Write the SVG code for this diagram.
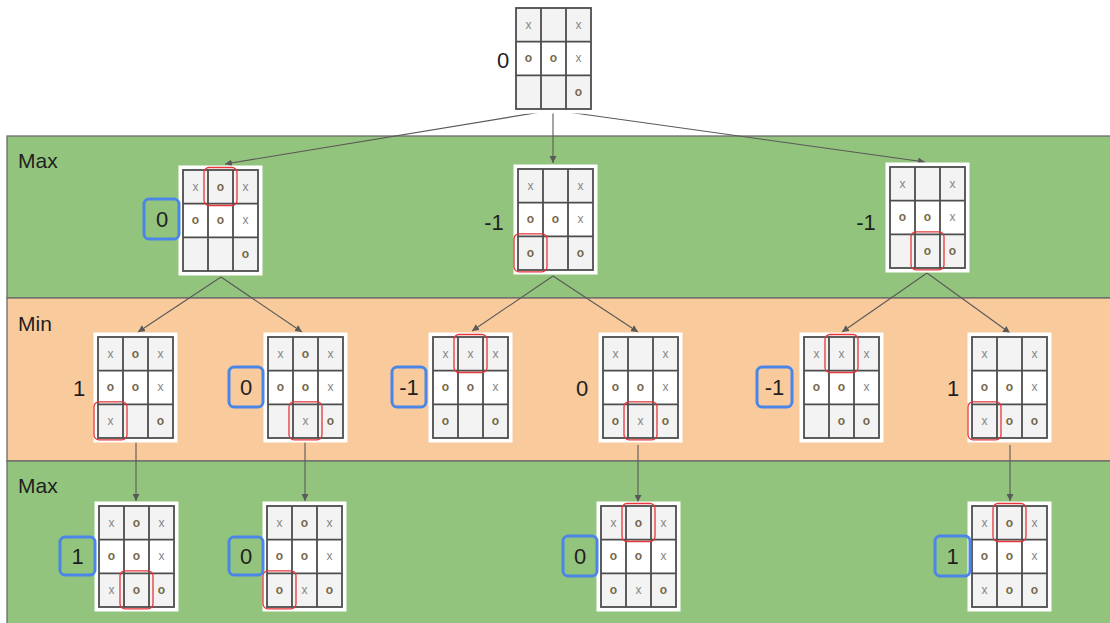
<svg xmlns="http://www.w3.org/2000/svg" xmlns:xlink="http://www.w3.org/1999/xlink" width="1110" height="623" viewBox="0 0 1110 623">
<style>
.band{stroke:#6b6b6b;stroke-width:1.3}
.lvl{font-family:"Liberation Sans",Arial,sans-serif;font-size:21px;fill:#1f1f1f}
.num{font-family:"Liberation Sans",Arial,sans-serif;font-size:22px;fill:#1f1f1f;text-anchor:middle}
.x{font-family:"Liberation Sans",Arial,sans-serif;font-size:12px;fill:#858585;text-anchor:middle}
.o{font-family:"Liberation Sans",Arial,sans-serif;font-size:12px;font-weight:bold;fill:#76684a;text-anchor:middle}
.hl{fill:none;stroke:#e8363a;stroke-width:1.3}
.bx{fill:none;stroke:#4a86e8;stroke-width:3}
.edge{stroke:#595959;stroke-width:1.1;fill:none;marker-end:url(#arr)}
</style>
<defs>
<marker id="arr" viewBox="0 0 10 10" refX="10" refY="5" markerWidth="7" markerHeight="7" markerUnits="userSpaceOnUse" orient="auto">
<path d="M0,0 L10,5 L0,10 z" fill="#595959"/>
</marker>
<g id="board">
<rect x="-4.5" y="-4.5" width="84" height="110" fill="#ffffff"/>
<rect x="0" y="0" width="75" height="33.67" fill="#f3f3f3"/>
<rect x="0" y="67.33" width="75" height="33.67" fill="#f3f3f3"/>
<rect x="0" y="0" width="75" height="101" fill="none" stroke="#4d4d4d" stroke-width="1.8"/>
<path d="M25,0V101M50,0V101M0,33.67H75M0,67.33H75" stroke="#4d4d4d" stroke-width="1.8" fill="none"/>
</g>
</defs>
<rect x="0" y="0" width="1110" height="623" fill="#ffffff"/>
<g id="bands">
<rect class="band" x="7" y="136" width="1120" height="162" fill="#93c47d"/>
<rect class="band" x="7" y="298" width="1120" height="163" fill="#f9cb9c"/>
<rect class="band" x="7" y="461" width="1120" height="170" fill="#93c47d"/>
<text class="lvl" x="18" y="168">Max</text>
<text class="lvl" x="18" y="331">Min</text>
<text class="lvl" x="18" y="493">Max</text>
</g>
<g id="connectors">
<line class="edge" x1="553" y1="110" x2="225" y2="164"/>
<line class="edge" x1="553" y1="110" x2="553" y2="163"/>
<line class="edge" x1="553" y1="110" x2="925" y2="162"/>
<line class="edge" x1="221" y1="277" x2="138" y2="332"/>
<line class="edge" x1="221" y1="277" x2="302" y2="332"/>
<line class="edge" x1="553" y1="276" x2="472" y2="331"/>
<line class="edge" x1="553" y1="276" x2="638" y2="332"/>
<line class="edge" x1="927" y1="273" x2="842" y2="332"/>
<line class="edge" x1="927" y1="273" x2="1010" y2="333"/>
<line class="edge" x1="136" y1="442" x2="136" y2="501"/>
<line class="edge" x1="305" y1="442" x2="305" y2="501"/>
<line class="edge" x1="638" y1="445" x2="638" y2="502"/>
<line class="edge" x1="1010" y1="445" x2="1010" y2="501"/>
</g>
<g id="root">
<use href="#board" x="516" y="8"/>
<text class="x" x="528.5" y="28.5">x</text><text class="x" x="578.5" y="28.5">x</text>
<text class="o" x="528.5" y="62">o</text><text class="o" x="553.5" y="62">o</text><text class="x" x="578.5" y="62">x</text>
<text class="o" x="578.5" y="96">o</text>
<text class="num" x="503" y="68">0</text>
</g>
<g id="max1">
<use href="#board" x="183" y="170"/>
<text class="x" x="195.5" y="190.5">x</text><text class="o" x="220.5" y="190.5">o</text><text class="x" x="245.5" y="190.5">x</text>
<text class="o" x="195.5" y="224">o</text><text class="o" x="220.5" y="224">o</text><text class="x" x="245.5" y="224">x</text>
<text class="o" x="245.5" y="258">o</text>
<rect class="hl" x="204" y="167.5" width="33" height="38" rx="5"/>
<rect class="bx" x="144" y="199" width="35" height="40" rx="5"/>
<text class="num" x="162" y="227">0</text>
</g>
<g id="max2">
<use href="#board" x="518" y="169"/>
<text class="x" x="530.5" y="189.5">x</text><text class="x" x="580.5" y="189.5">x</text>
<text class="o" x="530.5" y="223">o</text><text class="o" x="555.5" y="223">o</text><text class="x" x="580.5" y="223">x</text>
<text class="o" x="530.5" y="257">o</text><text class="o" x="580.5" y="257">o</text>
<rect class="hl" x="514" y="233.8" width="33" height="38" rx="5"/>
<text class="num" x="494" y="230">-1</text>
</g>
<g id="max3">
<use href="#board" x="890" y="167"/>
<text class="x" x="902.5" y="187.5">x</text><text class="x" x="952.5" y="187.5">x</text>
<text class="o" x="902.5" y="221">o</text><text class="o" x="927.5" y="221">o</text><text class="x" x="952.5" y="221">x</text>
<text class="o" x="927.5" y="255">o</text><text class="o" x="952.5" y="255">o</text>
<rect class="hl" x="911" y="231.8" width="33" height="38" rx="5"/>
<text class="num" x="866" y="230">-1</text>
</g>
<g id="minA">
<use href="#board" x="98" y="337"/>
<text class="x" x="110.5" y="357.5">x</text><text class="o" x="135.5" y="357.5">o</text><text class="x" x="160.5" y="357.5">x</text>
<text class="o" x="110.5" y="391">o</text><text class="o" x="135.5" y="391">o</text><text class="x" x="160.5" y="391">x</text>
<text class="x" x="110.5" y="425">x</text><text class="o" x="160.5" y="425">o</text>
<rect class="hl" x="94" y="401.8" width="33" height="38" rx="5"/>
<text class="num" x="79" y="396">1</text>
</g>
<g id="minB">
<use href="#board" x="268" y="337"/>
<text class="x" x="280.5" y="357.5">x</text><text class="o" x="305.5" y="357.5">o</text><text class="x" x="330.5" y="357.5">x</text>
<text class="o" x="280.5" y="391">o</text><text class="o" x="305.5" y="391">o</text><text class="x" x="330.5" y="391">x</text>
<text class="x" x="305.5" y="425">x</text><text class="o" x="330.5" y="425">o</text>
<rect class="hl" x="289" y="401.8" width="33" height="38" rx="5"/>
<rect class="bx" x="229" y="367" width="34" height="40" rx="5"/>
<text class="num" x="246" y="395">0</text>
</g>
<g id="minC">
<use href="#board" x="433" y="337"/>
<text class="x" x="445.5" y="357.5">x</text><text class="x" x="470.5" y="357.5">x</text><text class="x" x="495.5" y="357.5">x</text>
<text class="o" x="445.5" y="391">o</text><text class="o" x="470.5" y="391">o</text><text class="x" x="495.5" y="391">x</text>
<text class="o" x="445.5" y="425">o</text><text class="o" x="495.5" y="425">o</text>
<rect class="hl" x="454" y="334.5" width="33" height="38" rx="5"/>
<rect class="bx" x="392" y="367" width="34" height="40" rx="5"/>
<text class="num" x="409" y="395">-1</text>
</g>
<g id="minD">
<use href="#board" x="603" y="337"/>
<text class="x" x="615.5" y="357.5">x</text><text class="x" x="665.5" y="357.5">x</text>
<text class="o" x="615.5" y="391">o</text><text class="o" x="640.5" y="391">o</text><text class="x" x="665.5" y="391">x</text>
<text class="o" x="615.5" y="425">o</text><text class="x" x="640.5" y="425">x</text><text class="o" x="665.5" y="425">o</text>
<rect class="hl" x="624" y="401.8" width="33" height="38" rx="5"/>
<text class="num" x="582" y="396">0</text>
</g>
<g id="minE">
<use href="#board" x="804" y="337"/>
<text class="x" x="816.5" y="357.5">x</text><text class="x" x="841.5" y="357.5">x</text><text class="x" x="866.5" y="357.5">x</text>
<text class="o" x="816.5" y="391">o</text><text class="o" x="841.5" y="391">o</text><text class="x" x="866.5" y="391">x</text>
<text class="o" x="841.5" y="425">o</text><text class="o" x="866.5" y="425">o</text>
<rect class="hl" x="825" y="334.5" width="33" height="38" rx="5"/>
<rect class="bx" x="757" y="367" width="35" height="40" rx="5"/>
<text class="num" x="774.5" y="395">-1</text>
</g>
<g id="minF">
<use href="#board" x="972" y="337"/>
<text class="x" x="984.5" y="357.5">x</text><text class="x" x="1034.5" y="357.5">x</text>
<text class="o" x="984.5" y="391">o</text><text class="o" x="1009.5" y="391">o</text><text class="x" x="1034.5" y="391">x</text>
<text class="x" x="984.5" y="425">x</text><text class="o" x="1009.5" y="425">o</text><text class="o" x="1034.5" y="425">o</text>
<rect class="hl" x="968" y="401.8" width="33" height="38" rx="5"/>
<text class="num" x="953" y="396">1</text>
</g>
<g id="leafG">
<use href="#board" x="99" y="506"/>
<text class="x" x="111.5" y="526.5">x</text><text class="o" x="136.5" y="526.5">o</text><text class="x" x="161.5" y="526.5">x</text>
<text class="o" x="111.5" y="560">o</text><text class="o" x="136.5" y="560">o</text><text class="x" x="161.5" y="560">x</text>
<text class="x" x="111.5" y="594">x</text><text class="o" x="136.5" y="594">o</text><text class="o" x="161.5" y="594">o</text>
<rect class="hl" x="120" y="570.8" width="33" height="38" rx="5"/>
<rect class="bx" x="60" y="537" width="35" height="38" rx="5"/>
<text class="num" x="77.5" y="564">1</text>
</g>
<g id="leafH">
<use href="#board" x="267" y="506"/>
<text class="x" x="279.5" y="526.5">x</text><text class="o" x="304.5" y="526.5">o</text><text class="x" x="329.5" y="526.5">x</text>
<text class="o" x="279.5" y="560">o</text><text class="o" x="304.5" y="560">o</text><text class="x" x="329.5" y="560">x</text>
<text class="o" x="279.5" y="594">o</text><text class="x" x="304.5" y="594">x</text><text class="o" x="329.5" y="594">o</text>
<rect class="hl" x="263" y="570.8" width="33" height="38" rx="5"/>
<rect class="bx" x="229" y="537" width="34" height="38" rx="5"/>
<text class="num" x="246" y="564">0</text>
</g>
<g id="leafI">
<use href="#board" x="601" y="506"/>
<text class="x" x="613.5" y="526.5">x</text><text class="o" x="638.5" y="526.5">o</text><text class="x" x="663.5" y="526.5">x</text>
<text class="o" x="613.5" y="560">o</text><text class="o" x="638.5" y="560">o</text><text class="x" x="663.5" y="560">x</text>
<text class="o" x="613.5" y="594">o</text><text class="x" x="638.5" y="594">x</text><text class="o" x="663.5" y="594">o</text>
<rect class="hl" x="622" y="503.5" width="33" height="38" rx="5"/>
<rect class="bx" x="563" y="536" width="34" height="40" rx="5"/>
<text class="num" x="580" y="564">0</text>
</g>
<g id="leafJ">
<use href="#board" x="972" y="506"/>
<text class="x" x="984.5" y="526.5">x</text><text class="o" x="1009.5" y="526.5">o</text><text class="x" x="1034.5" y="526.5">x</text>
<text class="o" x="984.5" y="560">o</text><text class="o" x="1009.5" y="560">o</text><text class="x" x="1034.5" y="560">x</text>
<text class="x" x="984.5" y="594">x</text><text class="o" x="1009.5" y="594">o</text><text class="o" x="1034.5" y="594">o</text>
<rect class="hl" x="993" y="503.5" width="33" height="38" rx="5"/>
<rect class="bx" x="935" y="536" width="35" height="40" rx="5"/>
<text class="num" x="952.5" y="564">1</text>
</g>
</svg>
